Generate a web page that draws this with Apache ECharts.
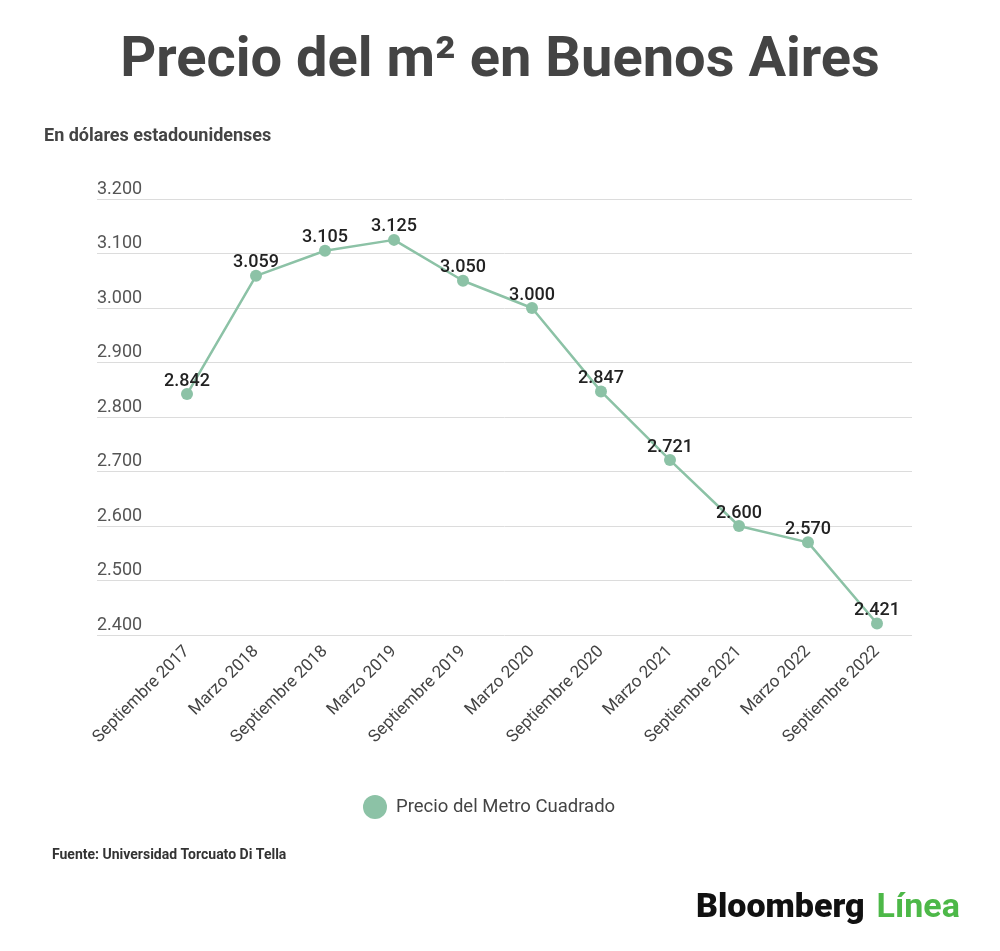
<!DOCTYPE html>
<html>
<head>
<meta charset="utf-8">
<script src="https://cdn.jsdelivr.net/npm/echarts@6/dist/echarts.min.js"></script>
<style>html,body{margin:0;padding:0;background:#fff}#c{width:1000px;height:951px}</style>
</head>
<body>
<div id="c"></div>
<script>
const categories = ['Septiembre 2017','Marzo 2018','Septiembre 2018','Marzo 2019','Septiembre 2019','Marzo 2020','Septiembre 2020','Marzo 2021','Septiembre 2021','Marzo 2022','Septiembre 2022'];
const precio = [2842, 3059, 3105, 3125, 3050, 3000, 2847, 2721, 2600, 2570, 2421];
const seriesName = 'Precio del Metro Cuadrado';
const yMin = 2400, yMax = 3200, yStep = 100;

const fmt = v => String(v).replace(/\B(?=(\d{3})+(?!\d))/g, '.');
const FONT = 'Roboto';
const chart = echarts.init(document.getElementById('c'), null, {renderer:'canvas'});
chart.setOption({
  backgroundColor:'#fff',
  textStyle:{fontFamily:FONT},
  animation:false,
  title:[
    {text:'Precio del m² en Buenos Aires', left:'center', top:34, padding:0,
     textStyle:{fontSize:56, fontWeight:'bold', color:'#444', fontFamily:FONT}},
    {text:'En dólares estadounidenses', left:44, top:127, padding:0,
     textStyle:{fontSize:18, fontWeight:'bold', color:'#444', fontFamily:FONT}},
    {text:'Fuente: Universidad Torcuato Di Tella', left:52, top:848, padding:0,
     textStyle:{fontSize:14, fontWeight:'bold', color:'#333', fontFamily:FONT}}
  ],
  legend:{
    data:[{name:seriesName, icon:'circle'}],
    left:358, top:790, itemWidth:24, itemHeight:24, itemGap:10,
    textStyle:{fontSize:18.5, color:'#444', fontFamily:FONT, padding:[0,0,0,4]}
  },
  grid:[
    {left:97, right:88, top:199, bottom:316, containLabel:false},
    {left:152.5, right:88.5, top:199, bottom:316, containLabel:false}
  ],
  xAxis:[
    {gridIndex:0, type:'category', data:categories, show:false},
    {gridIndex:1, type:'category', data:categories, boundaryGap:true,
     axisLine:{show:false}, axisTick:{show:false},
     axisLabel:{rotate:45, fontSize:17, color:'#444', margin:14, interval:0, fontFamily:FONT}}
  ],
  yAxis:[
    {gridIndex:0, type:'value', min:yMin, max:yMax, interval:yStep,
     axisLine:{show:false}, axisTick:{show:false},
     splitLine:{lineStyle:{color:'#dcdcdc', width:1}},
     axisLabel:{inside:true, margin:0, verticalAlign:'bottom', padding:[0,0,1,0],
       fontSize:18, color:'#555', formatter:fmt, fontFamily:FONT}},
    {gridIndex:1, type:'value', min:yMin, max:yMax, interval:yStep, show:false,
     splitLine:{show:false}}
  ],
  series:[{
    name:seriesName, type:'line', xAxisIndex:1, yAxisIndex:1, data:precio,
    symbol:'circle', symbolSize:12,
    lineStyle:{color:'#8cc2a6', width:2.5},
    itemStyle:{color:'#8cc2a6'},
    label:{show:true, position:'top', distance:-2, fontSize:18, fontWeight:500,
      color:'#222', formatter:p=>fmt(p.value), fontFamily:FONT}
  }],
  graphic:[{
    type:'text', left:696, top:891,
    style:{
      text:'{a|Bloomberg}{b|Línea}',
      rich:{
        a:{fontSize:34, fontWeight:900, fill:'#111', fontFamily:FONT, padding:[0,12,0,0]},
        b:{fontSize:34, fontWeight:'bold', fill:'#4db848', fontFamily:FONT}
      }
    }
  }]
});
</script>
</body>
</html>
